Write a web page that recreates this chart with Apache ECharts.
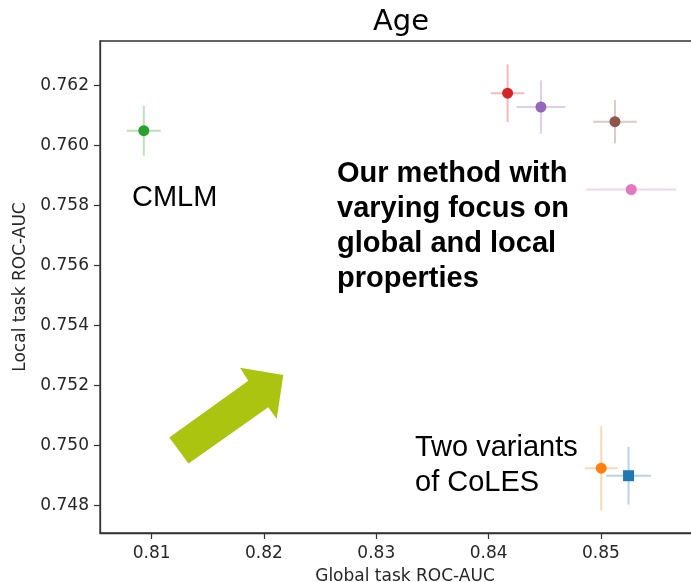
<!DOCTYPE html>
<html>
<head>
<meta charset="utf-8">
<script src="https://cdn.jsdelivr.net/npm/echarts@6/dist/echarts.min.js"></script>
<style>
  html, body { margin: 0; padding: 0; background: #fff; }
  #chart { width: 691px; height: 582px; }
</style>
</head>
<body>
<div id="chart"></div>
<script>
// Global vs. local task ROC-AUC for the "Age" dataset, mean ± std per model
const modelNames = ['CoLES', 'CoLES (alt)', 'CMLM', 'Ours a', 'Ours b', 'Ours c', 'Ours d'];
const globalAuc  = [0.85246, 0.85003, 0.80930, 0.84169, 0.84466, 0.85125, 0.85270];
const localAuc   = [0.74898, 0.74923, 0.76048, 0.76173, 0.76127, 0.76078, 0.75852];
const globalErr  = [0.00200, 0.00144, 0.00150, 0.00149, 0.00217, 0.00193, 0.00400];
const localErr   = [0.00096, 0.00140, 0.00083, 0.00096, 0.00089, 0.00072, 0.00000];
const markerKind = ['square', 'circle', 'circle', 'circle', 'circle', 'circle', 'circle'];

const xTicks = [0.81, 0.82, 0.83, 0.84, 0.85];
const yTicks = [0.748, 0.750, 0.752, 0.754, 0.756, 0.758, 0.760, 0.762];

const palette = ['#1f77b4', '#ff7f0e', '#2ca02c', '#d62728', '#9467bd', '#8c564b', '#e377c2'];

function withAlpha(hex, a) {
  const n = parseInt(hex.slice(1), 16);
  return 'rgba(' + ((n >> 16) & 255) + ',' + ((n >> 8) & 255) + ',' + (n & 255) + ',' + a + ')';
}

const points = modelNames.map((name, i) => ({
  name: name,
  value: [globalAuc[i], localAuc[i], globalErr[i], localErr[i], i]
}));

const chart = echarts.init(document.getElementById('chart'), null, { renderer: 'canvas' });

const tickFont = { fontFamily: 'DejaVu Sans', fontSize: 17, color: '#262626' };

chart.setOption({
  animation: false,
  backgroundColor: '#ffffff',
  grid: {
    left: 100, top: 41, right: -11, bottom: 49,
    outerBoundsMode: 'none',
    containLabel: false,
    show: true, borderColor: '#333333', borderWidth: 1.3, backgroundColor: 'transparent'
  },
  xAxis: {
    type: 'value',
    min: 0.8054, max: 0.8590,
    splitLine: { show: false },
    axisLine: { show: true, lineStyle: { color: '#333333', width: 1.3 } },
    axisTick: { show: true, inside: false, length: 6, customValues: xTicks, lineStyle: { color: '#333333', width: 1.2 } },
    axisLabel: Object.assign({ customValues: xTicks, margin: 12, formatter: v => v.toFixed(2) }, tickFont),
    name: 'Global task ROC-AUC',
    nameLocation: 'middle',
    nameGap: 35,
    nameTextStyle: { fontFamily: 'DejaVu Sans', fontSize: 17, color: '#262626', padding: [0, 0, 0, 8] }
  },
  yAxis: {
    type: 'value',
    min: 0.74707, max: 0.76347,
    splitLine: { show: false },
    axisLine: { show: true, lineStyle: { color: '#333333', width: 1.3 } },
    axisTick: { show: true, inside: false, length: 6, customValues: yTicks, lineStyle: { color: '#333333', width: 1.2 } },
    axisLabel: Object.assign({ customValues: yTicks, margin: 11, formatter: v => v.toFixed(3) }, tickFont),
    name: 'Local task ROC-AUC',
    nameLocation: 'middle',
    nameGap: 67,
    nameRotate: 90,
    nameTextStyle: { fontFamily: 'DejaVu Sans', fontSize: 17, color: '#262626' }
  },
  series: [{
    type: 'custom',
    coordinateSystem: 'cartesian2d',
    data: points,
    encode: { x: 0, y: 1 },
    renderItem: function (params, api) {
      const x = api.value(0), y = api.value(1);
      const ex = api.value(2), ey = api.value(3);
      const idx = api.value(4);
      const c = api.coord([x, y]);
      const xl = api.coord([x - ex, y]), xr = api.coord([x + ex, y]);
      const yb = api.coord([x, y - ey]), yt = api.coord([x, y + ey]);
      const col = palette[idx];
      const barStyle = { stroke: withAlpha(col, 0.32), lineWidth: 2 };
      const children = [
        { type: 'line', shape: { x1: xl[0], y1: xl[1], x2: xr[0], y2: xr[1] }, style: barStyle },
        { type: 'line', shape: { x1: yb[0], y1: yb[1], x2: yt[0], y2: yt[1] }, style: barStyle }
      ];
      if (markerKind[idx] === 'square') {
        children.push({ type: 'rect', shape: { x: c[0] - 5.5, y: c[1] - 5.5, width: 11, height: 11 }, style: { fill: col } });
      } else {
        children.push({ type: 'circle', shape: { cx: c[0], cy: c[1], r: 5.5 }, style: { fill: col } });
      }
      return { type: 'group', children: children };
    }
  }],
  graphic: [
    {
      type: 'text', x: 401, y: 22,
      style: { text: 'Age', fontFamily: 'DejaVu Sans', fontSize: 29, fill: '#000', align: 'center', verticalAlign: 'middle' }
    },
    {
      type: 'text', x: 132, y: 198,
      style: { text: 'CMLM', fontFamily: 'Liberation Sans', fontSize: 29, fill: '#000', align: 'left', verticalAlign: 'middle' }
    },
    {
      type: 'text', x: 337, y: 156,
      style: {
        text: 'Our method with\nvarying focus on\nglobal and local\nproperties',
        fontFamily: 'Liberation Sans', fontWeight: 'bold', fontSize: 29, lineHeight: 35,
        fill: '#000', align: 'left', verticalAlign: 'top'
      }
    },
    {
      type: 'text', x: 415, y: 431,
      style: {
        text: 'Two variants\nof CoLES',
        fontFamily: 'Liberation Sans', fontSize: 29, lineHeight: 34.5,
        fill: '#000', align: 'left', verticalAlign: 'top'
      }
    },
    {
      type: 'polygon',
      shape: {
        points: [[169.3, 437.5], [248.3, 380.7], [240, 367.7], [283.3, 375], [276.7, 419], [268.3, 407.3], [188.5, 463.5]]
      },
      style: { fill: '#abc40f' }
    }
  ]
});
</script>
</body>
</html>
